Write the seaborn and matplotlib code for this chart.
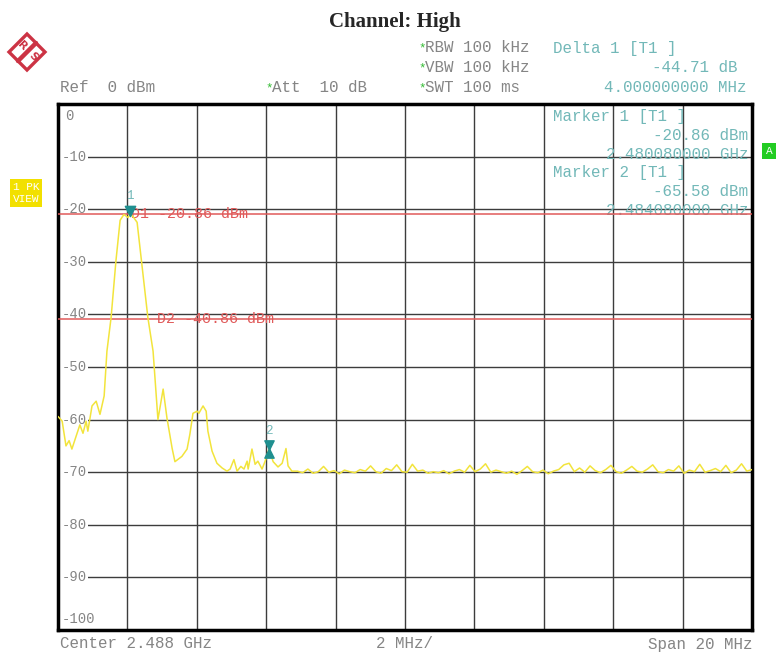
import matplotlib
matplotlib.use("Agg")
import matplotlib.pyplot as plt
from matplotlib.patches import Polygon
import seaborn as sns
import numpy as np
import pandas as pd

# sweep: center 2.488 GHz, span 20 MHz (frequencies in MHz)
f_start, f_stop = 2478.0, 2498.0
ref_level, bottom_level = 0, -100

# trace around the carrier (MHz, dBm)
carrier_freq = [2478.00, 2478.12, 2478.23, 2478.32, 2478.40, 2478.52, 2478.63, 2478.72,
                2478.81, 2478.86, 2478.98, 2479.10, 2479.21, 2479.33, 2479.41, 2479.53,
                2479.67, 2479.79, 2479.90, 2480.02, 2480.08, 2480.16, 2480.28, 2480.42,
                2480.59, 2480.74, 2480.80, 2480.88, 2481.03, 2481.14, 2481.29, 2481.37,
                2481.57, 2481.72, 2481.80, 2481.89, 2482.01, 2482.06, 2482.18, 2482.27,
                2482.32, 2482.44, 2482.58, 2482.73, 2482.87, 2482.96, 2483.07, 2483.16,
                2483.27, 2483.36, 2483.45, 2483.48, 2483.59, 2483.68, 2483.76, 2483.88,
                2483.97, 2484.08, 2484.20, 2484.34, 2484.46, 2484.57, 2484.63, 2484.74]
carrier_level = [-59.4, -60.3, -65.0, -64.0, -65.6, -63.2, -61.0, -62.6,
                 -60.3, -62.2, -57.4, -56.5, -59.0, -55.5, -47.0, -40.6,
                 -29.8, -22.1, -21.0, -21.6, -20.86, -21.4, -22.5, -30.7,
                 -40.6, -47.0, -52.7, -60.0, -54.2, -59.7, -65.5, -68.0,
                 -67.0, -65.6, -62.8, -58.8, -58.4, -58.8, -57.4, -58.4,
                 -62.2, -66.0, -68.3, -69.2, -69.8, -69.4, -67.6, -69.8,
                 -68.9, -69.4, -67.9, -69.4, -65.6, -68.5, -67.9, -69.4,
                 -67.9, -65.58, -68.0, -69.0, -68.3, -65.5, -68.8, -69.8]

# noise floor from 2484.9 MHz to the end of the span
floor_level = [-69.8, -70.1, -69.4, -70.2, -69.9, -68.9, -70.0, -69.7, -70.3, -69.6,
               -69.9, -70.1, -69.5, -69.8, -68.8, -69.9, -70.2, -69.3, -69.7, -68.6,
               -69.9, -70.0, -68.5, -69.8, -69.6, -70.2, -69.9, -70.1, -69.7, -70.3,
               -69.8, -69.5, -70.0, -68.7, -69.9, -69.4, -68.4, -70.0, -69.6, -69.9,
               -70.2, -69.8, -70.4, -69.7, -68.9, -69.9, -70.1, -69.6, -70.3, -69.8,
               -69.5, -68.6, -68.3, -69.9, -69.2, -70.0, -68.8, -69.7, -70.1, -69.5,
               -68.7, -69.9, -70.2, -69.6, -68.9, -69.8, -70.0, -69.4, -68.6, -69.9,
               -70.1, -69.5, -69.8, -68.8, -70.2, -69.6, -69.9, -68.5, -70.0, -69.7,
               -69.3, -69.9, -68.7, -70.1, -69.6, -68.4, -69.8, -69.5]
floor_freq = list(np.linspace(2484.9, f_stop, len(floor_level)))

marker_freq = [2480.08, 2484.08]
marker_level = [-20.86, -65.58]
display_lines = [-20.86, -40.86]
display_names = ["D1 -20.86 dBm", "D2 -40.86 dBm"]
level_ticks = [-10, -20, -30, -40, -50, -60, -70, -80, -90]

df = pd.DataFrame({"freq": carrier_freq + floor_freq,
                   "level": carrier_level + floor_level})

sns.set_style("white")
plt.rcParams["font.family"] = ["Liberation Mono", "DejaVu Sans Mono"]

W, H = 784, 653
fig = plt.figure(figsize=(W / 100, H / 100), dpi=100)
ax = fig.add_axes([58 / W, 1 - 630 / H, (752 - 58) / W, (630 - 104) / H])


def px(x, y):
    return x / W, 1 - y / H


grey = "#858585"
teal = "#72b8b8"
red = "#e05a5a"
yellow = "#f2e43c"
fs = 11.4

# grid
ax.set_xlim(f_start, f_stop)
ax.set_ylim(bottom_level, ref_level)
ax.set_xticks(np.linspace(f_start, f_stop, 11))
ax.set_yticks(np.arange(-100, 1, 10))
ax.tick_params(length=0, labelbottom=False, labelleft=False)
ax.grid(True, color="#3c3c3c", lw=1.0)
ax.set_axisbelow(True)
for s in ax.spines.values():
    s.set_color("black")
    s.set_linewidth(2.5)

# display lines
for lvl in display_lines:
    ax.axhline(lvl, color=red, lw=1.1, zorder=3)
ax.text(2480.1, display_lines[0], display_names[0], color=red, fontsize=10.8,
        va="center", ha="left", zorder=3)
ax.text(2480.85, display_lines[1], display_names[1], color=red, fontsize=10.8,
        va="center", ha="left", zorder=3)

# trace
sns.lineplot(data=df, x="freq", y="level", ax=ax, color=yellow, lw=1.1,
             sort=False, estimator=None, zorder=4)
ax.set_xlabel("")
ax.set_ylabel("")

# markers
ax.scatter([marker_freq[0]], [marker_level[0] + 0.6], marker="v", s=55,
           color="#1f8f8f", zorder=6)
ax.text(marker_freq[0], marker_level[0] + 2.2, "1", color=teal, fontsize=9,
        ha="center", va="bottom", zorder=6)
ax.scatter([marker_freq[1]], [marker_level[1] + 0.8], marker="v", s=45,
           color="#1f8f8f", zorder=6)
ax.scatter([marker_freq[1]], [marker_level[1] - 0.8], marker="^", s=45,
           color="#1f8f8f", zorder=6)
ax.text(marker_freq[1], marker_level[1] + 2.2, "2", color=teal, fontsize=9,
        ha="center", va="bottom", zorder=6)

# level labels inside the grid
ax.text(2478.2, -2.2, "0", color=grey, fontsize=10, ha="left", va="center")
for lvl in level_ticks:
    ax.text(2478.1, lvl, "-%d" % abs(lvl), color=grey, fontsize=10, ha="left",
            va="center", zorder=2,
            bbox=dict(facecolor="white", edgecolor="none", pad=1.0))
ax.text(2478.1, -98, "-100", color=grey, fontsize=10, ha="left", va="center")

# marker readout
readout = [(553, 116, "Marker 1 [T1 ]", "left"),
           (748, 136, "-20.86 dBm", "right"),
           (748, 154, "2.480080000 GHz", "right"),
           (553, 173, "Marker 2 [T1 ]", "left"),
           (748, 191, "-65.58 dBm", "right"),
           (748, 210, "2.484080000 GHz", "right")]
for x, y, s, ha in readout:
    ax.text(*px(x, y), s, transform=fig.transFigure, color=teal,
            fontsize=fs, va="center", ha=ha, zorder=1)

# header
fig.text(*px(395, 22), "Channel: High", fontsize=15, fontweight="bold",
         family="Liberation Serif", ha="center", va="center")
fig.text(*px(60, 88), "Ref  0 dBm", color=grey, fontsize=fs, va="center")
fig.text(*px(265, 88), "*", color="#33bb33", fontsize=9, va="center")
fig.text(*px(272, 88), "Att  10 dB", color=grey, fontsize=fs, va="center")
for y, s in zip([48, 68, 88], ["RBW 100 kHz", "VBW 100 kHz", "SWT 100 ms"]):
    fig.text(*px(418, y), "*", color="#33bb33", fontsize=9, va="center")
    fig.text(*px(425, y), s, color=grey, fontsize=fs, va="center")
fig.text(*px(553, 48), "Delta 1 [T1 ]", color=teal, fontsize=fs, va="center")
fig.text(*px(738, 68), "-44.71 dB", color=teal, fontsize=fs, va="center", ha="right")
fig.text(*px(747, 88), "4.000000000 MHz", color=teal, fontsize=fs, va="center", ha="right")

# footer
fig.text(*px(60, 644), "Center 2.488 GHz", color=grey, fontsize=fs, va="center")
fig.text(*px(405, 644), "2 MHz/", color=grey, fontsize=fs, va="center", ha="center")
fig.text(*px(752, 644), "Span 20 MHz", color=grey, fontsize=fs, va="center", ha="right")

# side badges
fig.text(*px(26, 193), "1 PK\nVIEW", color="white", fontsize=8, ha="center",
         va="center", linespacing=1.35,
         bbox=dict(facecolor="#f2e000", edgecolor="none", pad=2.0))
fig.text(*px(769, 151), "A", color="white", fontsize=8, ha="center", va="center",
         bbox=dict(facecolor="#22cc22", edgecolor="none", pad=2.5))

# R&S logo
cx, cy, r = 27, 52, 18
logo_red = "#cc3344"
fig.patches.append(Polygon([px(cx, cy - r), px(cx + r, cy), px(cx, cy + r), px(cx - r, cy)],
                           closed=True, transform=fig.transFigure, fill=False,
                           edgecolor=logo_red, lw=2.4))
p0, p1 = px(cx - 9, cy + 9), px(cx + 9, cy - 9)
fig.lines.append(plt.Line2D([p0[0], p1[0]], [p0[1], p1[1]],
                            transform=fig.transFigure, color=logo_red, lw=3.2))
fig.text(*px(cx - 5, cy - 6), "R", color=logo_red, fontsize=8, ha="center",
         va="center", rotation=-45, family="DejaVu Sans", fontweight="bold")
fig.text(*px(cx + 6, cy + 5), "S", color=logo_red, fontsize=8, ha="center",
         va="center", rotation=-45, family="DejaVu Sans", fontweight="bold")

fig.savefig("out.png", dpi=100, facecolor="white")
